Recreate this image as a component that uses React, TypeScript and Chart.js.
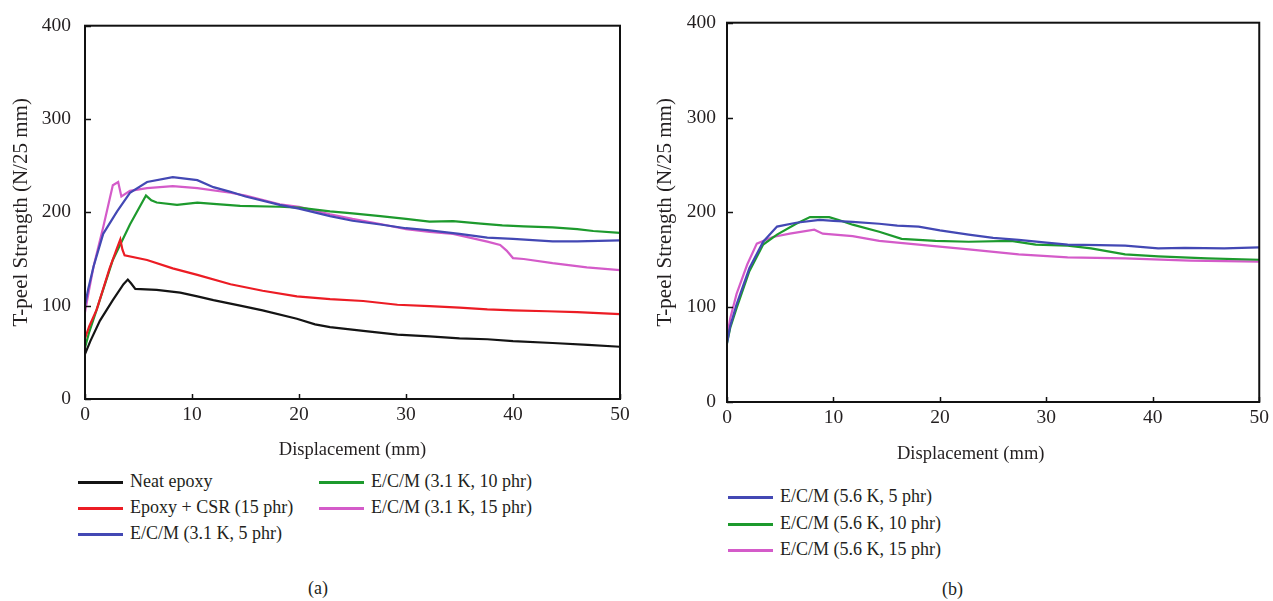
import React, { useEffect, useRef } from "react";
import { Chart, registerables } from "chart.js";

Chart.register(...registerables);

const FONT = "'Liberation Serif', 'Times New Roman', serif";
const TEXT = "#231f20";

// ---- axis definitions ----
const xRange = [0, 50];
const xStep = 10;
const yRange = [0, 400];
const yStep = 100;

const xTitle = "Displacement (mm)";
const yTitle = "T-peel Strength (N/25 mm)";

// ---- panel (a) series: [displacement mm, strength N/25mm] ----
const neatEpoxy: [number, number][] = [
  [0, 48], [0.5, 62], [1.4, 84], [2.6, 106], [3.6, 123], [4.0, 128], [4.3, 124], [4.7, 118],
  [6.7, 117], [8.9, 114], [10.5, 110], [12, 106], [14.5, 100], [16.6, 95], [19.8, 86],
  [21.5, 80], [22.9, 77], [26, 73], [29.2, 69], [32.2, 67], [35, 65], [37.6, 64], [40, 62],
  [43.7, 60], [47, 58], [50, 56],
];
const epoxyCSR: [number, number][] = [
  [0, 65], [0.4, 78], [1.1, 96], [2.3, 140], [3.0, 162], [3.3, 171], [3.5, 160], [3.7, 154],
  [5.8, 149], [8.2, 140], [10.5, 133], [13.6, 123], [16.6, 116], [19.8, 110], [22.9, 107],
  [26, 105], [29.2, 101], [32.2, 99.5], [35, 98], [37.6, 96], [40, 95], [43.2, 94], [46, 93],
  [50, 91],
];
const ecm31k5: [number, number][] = [
  [0, 100], [0.3, 118], [0.8, 142], [1.7, 177], [3, 201], [4.2, 221], [5.8, 232.5],
  [8.2, 237.7], [10.5, 234.5], [12, 227], [13.6, 222], [15, 217], [18.2, 208], [20, 204],
  [22.9, 196], [25, 191], [27.6, 187], [30, 183], [32, 181], [35, 177], [37.6, 173],
  [40, 171.5], [43.7, 169], [46, 169], [50, 170],
];
const ecm31k10: [number, number][] = [
  [0, 55], [0.4, 72], [1.1, 96], [2.6, 149], [4.2, 187], [5.7, 218], [6.2, 213], [6.7, 210.5],
  [8.6, 208], [10.5, 210.5], [12, 209], [14.5, 207], [18.2, 206], [20, 205], [22.9, 201],
  [25, 199], [27.6, 196], [30, 193], [32.2, 190], [34.4, 190.6], [37, 188], [39, 186],
  [41, 185], [43.7, 184], [46, 182], [47.5, 180], [50, 178],
];
const ecm31k15: [number, number][] = [
  [0, 93], [0.3, 112], [0.8, 142], [1.7, 184], [2.6, 229], [3.1, 232.5], [3.4, 217],
  [4.2, 223], [5.8, 226], [8.2, 228], [10.5, 226], [13.6, 221], [15, 218], [18.2, 208.5],
  [20, 206], [22.9, 198], [25, 193], [27.6, 187.5], [30, 182], [32.2, 179], [34.4, 177],
  [37.6, 168.6], [38.8, 165], [39.4, 159], [40, 151], [41, 150], [43.7, 145.5],
  [46.9, 141], [50, 138],
];

// ---- panel (b) series ----
const ecm56k5: [number, number][] = [
  [0, 62], [0.3, 80], [0.9, 103], [2.1, 141], [3.4, 169], [4.7, 185], [6.5, 189], [8.7, 192],
  [10, 191], [11.8, 190], [14.3, 188], [16, 186], [18, 185], [20, 181], [22.7, 176.5],
  [25, 173], [27.4, 171], [30, 168], [32, 166], [35, 165.5], [37.4, 165], [40.5, 162],
  [43, 162.5], [46.7, 162], [50, 163],
];
const ecm56k10: [number, number][] = [
  [0, 62], [0.3, 78], [0.9, 99], [2.1, 138], [3.4, 166], [4.7, 176.5], [6.5, 188], [7.8, 195],
  [9.6, 195], [10.5, 192], [11.8, 187], [14.3, 179.6], [16.4, 172], [19.6, 170], [22.7, 169],
  [26.7, 170], [29, 166], [32, 165], [34.2, 162], [37.4, 155.6], [40.5, 153.5],
  [45.1, 151.4], [50, 150],
];
const ecm56k15: [number, number][] = [
  [0, 68], [0.3, 88], [0.9, 114], [1.9, 145], [2.8, 167], [4.3, 174], [5.9, 177.5],
  [8.2, 181.7], [9, 177.5], [11.8, 175], [14.3, 170], [18, 166], [22.7, 161], [27.4, 155.6],
  [32, 152.5], [37.4, 151.4], [43.5, 149], [50, 148],
];

const labelsA = [
  "Neat epoxy",
  "Epoxy + CSR (15 phr)",
  "E/C/M (3.1 K, 5 phr)",
  "E/C/M (3.1 K, 10 phr)",
  "E/C/M (3.1 K, 15 phr)",
];
const labelsB = ["E/C/M (5.6 K, 5 phr)", "E/C/M (5.6 K, 10 phr)", "E/C/M (5.6 K, 15 phr)"];

const BLACK = "#141414";
const RED = "#ec1c24";
const GREEN = "#1d9a2d";
const BLUE = "#4348b4";
const MAGENTA = "#d45bc9";

const seriesA = [
  { label: labelsA[0], data: neatEpoxy, color: BLACK },
  { label: labelsA[1], data: epoxyCSR, color: RED },
  { label: labelsA[2], data: ecm31k5, color: BLUE },
  { label: labelsA[3], data: ecm31k10, color: GREEN },
  { label: labelsA[4], data: ecm31k15, color: MAGENTA },
];
const seriesB = [
  { label: labelsB[0], data: ecm56k5, color: BLUE },
  { label: labelsB[1], data: ecm56k10, color: GREEN },
  { label: labelsB[2], data: ecm56k15, color: MAGENTA },
];

const framePlugin = {
  id: "frameBox",
  afterDraw(chart: any) {
    const { ctx, chartArea: a, scales } = chart;
    ctx.save();
    ctx.strokeStyle = "#111";
    ctx.lineWidth = 1.5;
    scales.x.ticks.forEach((t: any) => {
      const px = Math.round(scales.x.getPixelForValue(t.value)) + 0.5;
      ctx.beginPath();
      ctx.moveTo(px, a.bottom);
      ctx.lineTo(px, a.bottom - 5);
      ctx.stroke();
    });
    scales.y.ticks.forEach((t: any) => {
      const py = Math.round(scales.y.getPixelForValue(t.value)) + 0.5;
      ctx.beginPath();
      ctx.moveTo(a.left, py);
      ctx.lineTo(a.left + 6, py);
      ctx.stroke();
    });
    ctx.lineWidth = 2;
    ctx.strokeRect(a.left, a.top, a.right - a.left, a.bottom - a.top);
    ctx.restore();
  },
};

type PanelProps = {
  series: { label: string; data: [number, number][]; color: string }[];
  width: number;
  height: number;
  padTop: number;
  padRight: number;
  yAxisWidth: number;
  xAxisHeight: number;
  yTitlePad: number;
  yTickPad: number;
  showXTitle: boolean;
};

function Panel(p: PanelProps) {
  const ref = useRef<HTMLCanvasElement | null>(null);
  useEffect(() => {
    if (!ref.current) return;
    const chart = new Chart(ref.current, {
      type: "line",
      data: {
        datasets: p.series.map((s) => ({
          label: s.label,
          data: s.data.map(([x, y]) => ({ x, y })),
          borderColor: s.color,
          backgroundColor: s.color,
          borderWidth: 2.2,
          pointRadius: 0,
          tension: 0,
          fill: false,
        })),
      },
      options: {
        animation: false,
        responsive: false,
        devicePixelRatio: 1,
        layout: { padding: { top: p.padTop, right: p.padRight, left: 0, bottom: 0 } },
        plugins: { legend: { display: false }, tooltip: { enabled: false } },
        scales: {
          x: {
            type: "linear",
            min: xRange[0],
            max: xRange[1],
            ticks: {
              stepSize: xStep,
              padding: 4,
              color: TEXT,
              maxRotation: 0,
              font: { family: FONT, size: 19.5 },
            },
            grid: { display: false, drawTicks: false },
            border: { display: false },
            title: {
              display: p.showXTitle,
              text: xTitle,
              color: TEXT,
              font: { family: FONT, size: 18.5 },
              padding: { top: 0, bottom: 0 },
            },
            afterFit: (s: any) => {
              s.height = p.xAxisHeight;
            },
          },
          y: {
            type: "linear",
            min: yRange[0],
            max: yRange[1],
            ticks: {
              stepSize: yStep,
              padding: p.yTickPad,
              color: TEXT,
              font: { family: FONT, size: 19.5 },
            },
            grid: { display: false, drawTicks: false },
            border: { display: false },
            title: {
              display: true,
              text: yTitle,
              color: TEXT,
              font: { family: FONT, size: 21 },
              padding: { top: p.yTitlePad, bottom: 0 },
            },
            afterFit: (s: any) => {
              s.width = p.yAxisWidth;
            },
          },
        },
      },
      plugins: [framePlugin],
    } as any);
    return () => chart.destroy();
  }, []);
  return <canvas ref={ref} width={p.width} height={p.height} style={{ display: "block" }} />;
}

const textStyle: React.CSSProperties = {
  position: "absolute",
  fontFamily: FONT,
  fontSize: 18,
  color: TEXT,
  whiteSpace: "nowrap",
  lineHeight: "22px",
};

function LegendItem({ x, y, color, label }: { x: number; y: number; color: string; label: string }) {
  return (
    <>
      <div
        style={{
          position: "absolute",
          left: x,
          top: y - 1.5,
          width: 45,
          height: 3,
          background: color,
        }}
      />
      <div style={{ ...textStyle, left: x + 52, top: y - 12 }}>{label}</div>
    </>
  );
}

export default function App() {
  return (
    <div
      style={{
        position: "absolute",
        left: 0,
        top: 0,
        width: 1273,
        height: 601,
        background: "#fff",
        overflow: "hidden",
      }}
    >
      <div style={{ position: "absolute", left: 0, top: 0 }}>
        <Panel
          series={seriesA}
          width={640}
          height={461}
          padTop={17}
          padRight={20}
          yAxisWidth={85}
          xAxisHeight={62}
          yTitlePad={9}
          yTickPad={14}
          showXTitle={true}
        />
      </div>
      <div style={{ position: "absolute", left: 640, top: 0 }}>
        <Panel
          series={seriesB}
          width={633}
          height={464}
          padTop={19}
          padRight={11}
          yAxisWidth={87}
          xAxisHeight={62}
          yTitlePad={13}
          yTickPad={11}
          showXTitle={false}
        />
      </div>
      <div style={{ ...textStyle, fontSize: 18.5, left: 897, top: 442 }}>{xTitle}</div>

      <LegendItem x={78} y={482} color={seriesA[0].color} label={labelsA[0]} />
      <LegendItem x={78} y={508} color={seriesA[1].color} label={labelsA[1]} />
      <LegendItem x={78} y={534} color={seriesA[2].color} label={labelsA[2]} />
      <LegendItem x={319} y={482} color={seriesA[3].color} label={labelsA[3]} />
      <LegendItem x={319} y={508} color={seriesA[4].color} label={labelsA[4]} />

      <LegendItem x={728} y={497} color={seriesB[0].color} label={labelsB[0]} />
      <LegendItem x={728} y={524} color={seriesB[1].color} label={labelsB[1]} />
      <LegendItem x={728} y={550} color={seriesB[2].color} label={labelsB[2]} />

      <div style={{ ...textStyle, left: 308, top: 577 }}>(a)</div>
      <div style={{ ...textStyle, left: 942, top: 578 }}>(b)</div>
    </div>
  );
}
